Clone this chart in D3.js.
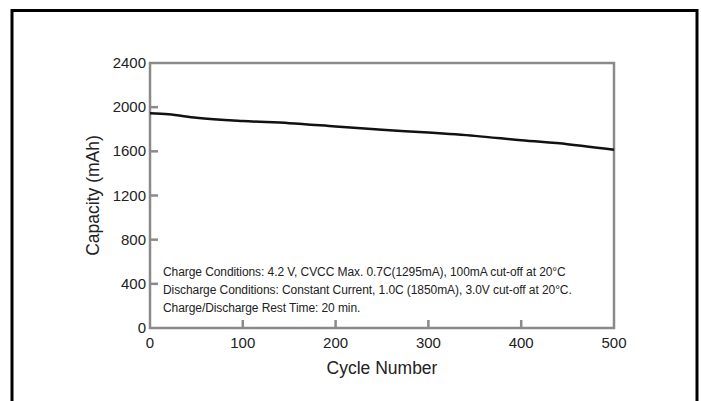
<!DOCTYPE html>
<html>
<head>
<meta charset="utf-8">
<script src="https://cdn.jsdelivr.net/npm/d3@7.9.0/dist/d3.min.js"></script>
<style>
  body { margin: 0; background: #fff; }
  svg { display: block; font-family: "Liberation Sans", Arial, sans-serif; }
</style>
</head>
<body>
<div id="chart"></div>
<script>
// capacity fade data
const cycles = [0, 20, 50, 100, 150, 200, 250, 300, 350, 400, 450, 500];
const capacity = [1945, 1935, 1905, 1875, 1855, 1825, 1795, 1770, 1740, 1700, 1665, 1615];

const xTicks = [0, 100, 200, 300, 400, 500];
const yTicks = [0, 400, 800, 1200, 1600, 2000, 2400];

const notes = [
  "Charge Conditions: 4.2 V, CVCC Max. 0.7C(1295mA), 100mA cut-off at 20\u00B0C",
  "Discharge Conditions: Constant Current, 1.0C (1850mA), 3.0V cut-off at 20\u00B0C.",
  "Charge/Discharge Rest Time: 20 min."
];

const W = 701, H = 401;
const plot = { left: 150, top: 63, right: 614, bottom: 328 };

const svg = d3.select("#chart").append("svg")
  .attr("width", W)
  .attr("height", H);

// outer frame (open at the bottom)
svg.append("path")
  .attr("d", `M12,${H + 5} V10.5 H697 V${H + 5}`)
  .attr("fill", "none")
  .attr("stroke", "#000")
  .attr("stroke-width", 3);

const x = d3.scaleLinear().domain([0, 500]).range([plot.left, plot.right]);
const y = d3.scaleLinear().domain([0, 2400]).range([plot.bottom, plot.top]);

const axisColor = "#8a8a8a";
const tickLen = 8;

// plot box
svg.append("rect")
  .attr("x", plot.left)
  .attr("y", plot.top)
  .attr("width", plot.right - plot.left)
  .attr("height", plot.bottom - plot.top)
  .attr("fill", "none")
  .attr("stroke", axisColor)
  .attr("stroke-width", 2.5);

// inward ticks on the left
svg.append("g")
  .selectAll("line")
  .data(yTicks.filter(d => d > 0 && d < 2400))
  .join("line")
    .attr("x1", plot.left)
    .attr("x2", plot.left + tickLen)
    .attr("y1", d => y(d))
    .attr("y2", d => y(d))
    .attr("stroke", axisColor)
    .attr("stroke-width", 2.5);

// inward ticks on the bottom
svg.append("g")
  .selectAll("line")
  .data(xTicks.filter(d => d > 0 && d < 500))
  .join("line")
    .attr("x1", d => x(d))
    .attr("x2", d => x(d))
    .attr("y1", plot.bottom)
    .attr("y2", plot.bottom - tickLen)
    .attr("stroke", axisColor)
    .attr("stroke-width", 2.5);

// tick labels
svg.append("g")
  .selectAll("text")
  .data(yTicks)
  .join("text")
    .attr("x", plot.left - 4)
    .attr("y", d => y(d) + 5)
    .attr("text-anchor", "end")
    .attr("font-size", 15)
    .attr("fill", "#222")
    .text(d => d);

svg.append("g")
  .selectAll("text")
  .data(xTicks)
  .join("text")
    .attr("x", d => x(d))
    .attr("y", plot.bottom + 20)
    .attr("text-anchor", "middle")
    .attr("font-size", 15)
    .attr("fill", "#222")
    .text(d => d);

// axis titles
svg.append("text")
  .attr("transform", `translate(99, ${(plot.top + plot.bottom) / 2}) rotate(-90)`)
  .attr("text-anchor", "middle")
  .attr("font-size", 17.5)
  .attr("fill", "#222")
  .text("Capacity (mAh)");

svg.append("text")
  .attr("x", (plot.left + plot.right) / 2)
  .attr("y", 374)
  .attr("text-anchor", "middle")
  .attr("font-size", 17.5)
  .attr("fill", "#222")
  .text("Cycle Number");

// test conditions
svg.append("g")
  .selectAll("text")
  .data(notes)
  .join("text")
    .attr("x", 163)
    .attr("y", (d, i) => 276 + i * 18)
    .attr("font-size", 12)
    .attr("letter-spacing", -0.08)
    .attr("fill", "#222")
    .text(d => d);

// capacity line
const line = d3.line()
  .x((d, i) => x(cycles[i]))
  .y(d => y(d))
  .curve(d3.curveMonotoneX);

svg.append("path")
  .datum(capacity)
  .attr("d", line)
  .attr("fill", "none")
  .attr("stroke", "#111")
  .attr("stroke-width", 2.5);
</script>
</body>
</html>
